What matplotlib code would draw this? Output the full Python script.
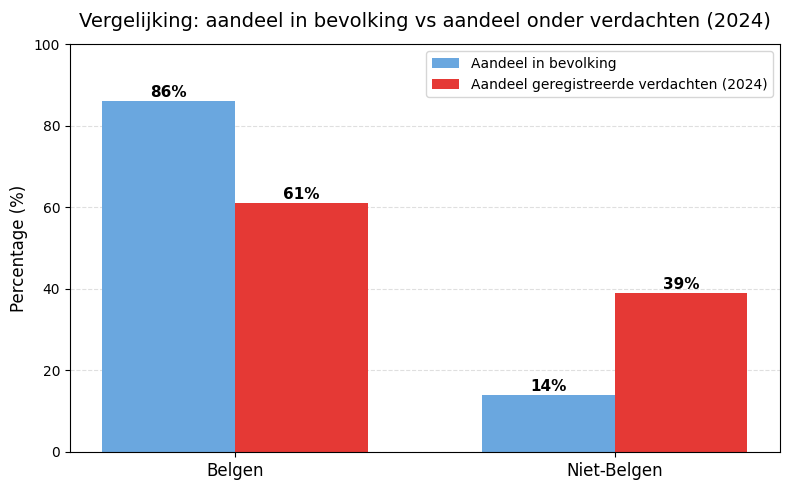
import numpy as np
import matplotlib.pyplot as plt

groepen = ['Belgen', 'Niet-Belgen']
bevolking = [86, 14]
verdachten = [61, 39]

x = np.arange(len(groepen))
w = 0.35

fig, ax = plt.subplots(figsize=(7.9, 4.9), dpi=100)
b1 = ax.bar(x - w/2, bevolking, w, color='#6aa7df', label='Aandeel in bevolking')
b2 = ax.bar(x + w/2, verdachten, w, color='#e53935', label='Aandeel geregistreerde verdachten (2024)')

for bars in (b1, b2):
    for b in bars:
        h = b.get_height()
        ax.text(b.get_x() + b.get_width()/2, h + 0.3, f'{h:.0f}%',
                ha='center', va='bottom', fontsize=11, fontweight='bold')

ax.set_xticks(x)
ax.set_xticklabels(groepen, fontsize=12)
ax.set_ylim(0, 100)
ax.set_ylabel('Percentage (%)', fontsize=12)
ax.set_title('Vergelijking: aandeel in bevolking vs aandeel onder verdachten (2024)', fontsize=14, pad=12)
ax.grid(axis='y', linestyle='--', alpha=0.4)
ax.set_axisbelow(True)
ax.legend(loc='upper right')

fig.subplots_adjust(left=0.0886, right=0.987, top=0.910, bottom=0.0776)
plt.savefig('out.png')
